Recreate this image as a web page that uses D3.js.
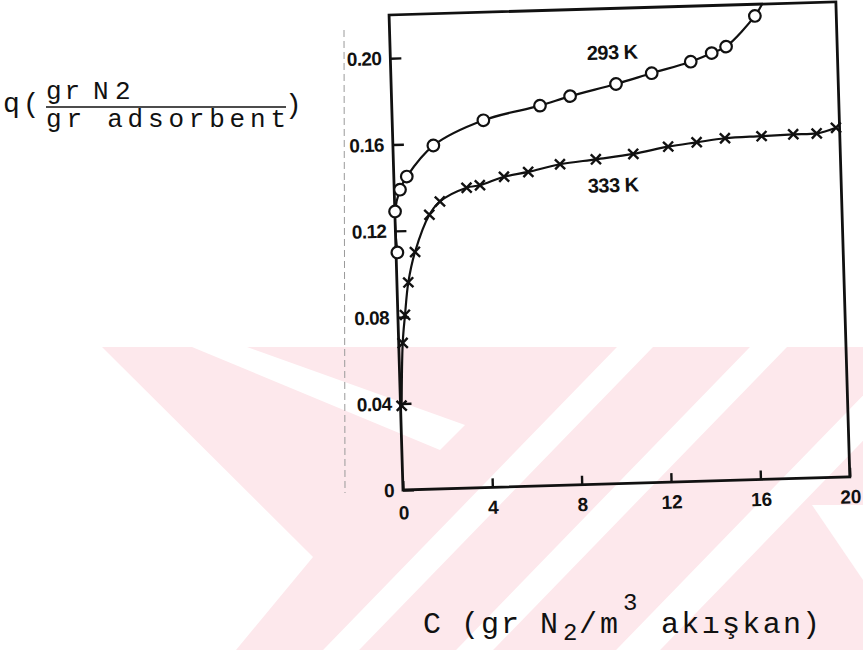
<!DOCTYPE html>
<html>
<head>
<meta charset="utf-8">
<script src="https://cdn.jsdelivr.net/npm/d3@7/dist/d3.min.js"></script>
<style>
  html, body { margin: 0; padding: 0; background: #fff; }
  svg { display: block; }
</style>
</head>
<body>
<svg id="chart" width="863" height="650"></svg>
<script>
// Adsorption isotherms of N2: loading q vs. fluid concentration C at two temperatures
const c293 = [0.06, 0.01, 0.26, 0.58, 1.81, 4.08, 6.63, 7.99, 10.06, 11.67, 13.43, 14.38, 15.03, 16.36];
const q293 = [0.110, 0.129, 0.139, 0.145, 0.159, 0.170, 0.176, 0.180, 0.185, 0.1895, 0.1943, 0.198, 0.2008, 0.2146];
const end293 = [16.7, 0.22];   // where the 293 K curve leaves the frame

const c333 = [0.05, 0.18, 0.32, 0.51, 0.85, 1.54, 2.03, 3.24, 3.84, 4.93, 6.02, 7.45, 9.06, 10.74, 12.31, 13.59, 14.86, 16.5, 17.92, 18.97, 19.84];
const q333 = [0.039, 0.068, 0.081, 0.096, 0.110, 0.127, 0.133, 0.139, 0.140, 0.1436, 0.1455, 0.1486, 0.1504, 0.1524, 0.1553, 0.1569, 0.1584, 0.1589, 0.1593, 0.1594, 0.1618];

const xTicks = [0, 4, 8, 12, 16, 20];
const yTicks = [0, 0.04, 0.08, 0.12, 0.16, 0.20];
const yTickLabels = ["0", "0.04", "0.08", "0.12", "0.16", "0.20"];
const seriesLabels = [
  { text: "293 K", c: 8.79, q: 0.1965 },
  { text: "333 K", c: 8.66, q: 0.135 }
];

const svg = d3.select("#chart");
const ink = "#111";
const pink = "#fde8ec";

// ---- faint background emblem: pink field with white diagonal cut-outs ----
const bg = svg.append("g");
bg.append("rect").attr("x", 0).attr("y", 347).attr("width", 863).attr("height", 303).attr("fill", pink);
const band = (xTop, w, slope) => {
  const yA = 347, yB = 650, d = slope * (yB - yA);
  return [[xTop, yA], [xTop + w, yA], [xTop + w + d, yB], [xTop + d, yB]];
};
const whiteShapes = [
  [[0,347],[102,347],[313,557],[236,650],[0,650]],
  [[192,347],[247,347],[465,425],[440,450]],
  band(617, 36, -0.97),
  band(750, 37, -0.97),
  band(910, 44, -0.97),
  [[812,505],[863,505],[863,580]]
];
bg.selectAll("polygon").data(whiteShapes).join("polygon")
  .attr("points", d => d.map(p => p.join(",")).join(" "))
  .attr("fill", "#fff");

// ---- plot frame (slightly tilted sheet) ----
const x0 = 403, y0 = 490, W = 447;
const x = d3.scaleLinear().domain([0, 20]).range([x0, x0 + W]);
const y = d3.scaleLinear().domain([0, 0.22]).range([y0, y0 - 0.22 * 2160]);

const g = svg.append("g").attr("transform", `rotate(-1.68, ${x0}, ${y0})`);

g.append("clipPath").attr("id", "plotClip")
  .append("rect").attr("x", x(0)).attr("y", y(0.22)).attr("width", x(20) - x(0)).attr("height", y(0) - y(0.22));

g.append("rect")
  .attr("x", x(0)).attr("y", y(0.22))
  .attr("width", x(20) - x(0)).attr("height", y(0) - y(0.22))
  .attr("fill", "none").attr("stroke", ink).attr("stroke-width", 2.8);

const tickFont = "'Liberation Sans', Arial, sans-serif";

// y axis: ticks point into the frame, labels to the left
const yAxis = d3.axisRight(y).tickValues(yTicks).tickSize(11)
  .tickFormat((d, i) => yTickLabels[i]);
const ya = g.append("g").attr("transform", `translate(${x(0)},0)`).call(yAxis);
ya.select(".domain").remove();
ya.selectAll(".tick line").attr("stroke", ink).attr("stroke-width", 2.4);
ya.selectAll(".tick text")
  .attr("x", -9).attr("text-anchor", "end")
  .attr("font-family", tickFont).attr("font-weight", "bold").attr("font-size", 19)
  .attr("letter-spacing", -0.6)
  .attr("fill", ink);

// x axis: ticks point up into the frame, labels below
const xAxis = d3.axisTop(x).tickValues(xTicks).tickSize(9).tickFormat(d3.format("d"));
const xa = g.append("g").attr("transform", `translate(0,${y(0)})`).call(xAxis);
xa.select(".domain").remove();
xa.selectAll(".tick line").attr("stroke", ink).attr("stroke-width", 2.4);
xa.selectAll(".tick text")
  .attr("y", 13).attr("dy", "0.71em")
  .attr("font-family", tickFont).attr("font-weight", "bold").attr("font-size", 19)
  .attr("fill", ink);
xa.selectAll(".tick").filter(d => d === 0).select("text").attr("y", 16);

// curves
const pts293 = c293.map((c, i) => [c, q293[i]]);
const pts333 = c333.map((c, i) => [c, q333[i]]);
const line = d3.line().x(d => x(d[0])).y(d => y(d[1])).curve(d3.curveCatmullRom.alpha(0.5));

g.append("path").datum(pts293.concat([end293]))
  .attr("d", line).attr("fill", "none").attr("stroke", ink).attr("stroke-width", 2.2)
  .attr("clip-path", "url(#plotClip)");
g.append("path").datum(pts333)
  .attr("d", line).attr("fill", "none").attr("stroke", ink).attr("stroke-width", 2.2)
  .attr("clip-path", "url(#plotClip)");

// 293 K markers: open circles
g.selectAll("circle.m293").data(pts293).join("circle")
  .attr("class", "m293")
  .attr("cx", d => x(d[0])).attr("cy", d => y(d[1])).attr("r", 5.8)
  .attr("fill", "#fff").attr("stroke", ink).attr("stroke-width", 2.2);

// 333 K markers: crosses
const s = 5;
g.selectAll("path.m333").data(pts333).join("path")
  .attr("class", "m333")
  .attr("d", `M${-s},${-s}L${s},${s}M${-s},${s}L${s},${-s}`)
  .attr("transform", d => `translate(${x(d[0])},${y(d[1])})`)
  .attr("fill", "none").attr("stroke", ink).attr("stroke-width", 2.4);

// temperature labels
g.selectAll("text.series").data(seriesLabels).join("text")
  .attr("class", "series")
  .attr("x", d => x(d.c)).attr("y", d => y(d.q))
  .attr("font-family", tickFont).attr("font-weight", "bold").attr("font-size", 20)
  .attr("letter-spacing", -0.5)
  .attr("fill", ink)
  .text(d => d.text);

// ---- axis titles (typewritten) ----
const mono = "'Liberation Mono', 'DejaVu Sans Mono', monospace";
const yt = svg.append("g").attr("font-family", mono).attr("fill", ink);
yt.append("text").attr("x", 3).attr("y", 112).attr("font-size", 28).attr("letter-spacing", 3).text("q(");
const num = yt.append("text").attr("y", 99).attr("font-size", 26);
num.append("tspan").attr("x", 46).attr("letter-spacing", 3).text("gr");
num.append("tspan").attr("x", 93).text("N");
num.append("tspan").attr("x", 115).text("2");
yt.append("line").attr("x1", 46).attr("x2", 286).attr("y1", 107).attr("y2", 107)
  .attr("stroke", ink).attr("stroke-width", 1.6);
yt.append("text").attr("x", 46).attr("y", 127).attr("font-size", 26)
  .attr("textLength", 240).attr("lengthAdjust", "spacing").text("gr adsorbent");
yt.append("text").attr("x", 285).attr("y", 113).attr("font-size", 28).text(")");

const xt = svg.append("text").attr("font-family", mono).attr("fill", ink).attr("font-size", 30);
xt.append("tspan").attr("x", 423).attr("y", 633).text("C");
xt.append("tspan").attr("x", 461).attr("y", 633).text("(");
xt.append("tspan").attr("x", 481).attr("y", 633).attr("letter-spacing", 2).text("gr");
xt.append("tspan").attr("x", 540).attr("y", 633).text("N");
xt.append("tspan").attr("x", 563).attr("y", 640).attr("font-size", 24).text("2");
xt.append("tspan").attr("x", 579).attr("y", 633).text("/");
xt.append("tspan").attr("x", 600).attr("y", 633).text("m");
xt.append("tspan").attr("x", 623).attr("y", 610).attr("font-size", 24).text("3");
xt.append("tspan").attr("x", 661).attr("y", 633).attr("textLength", 140).attr("lengthAdjust", "spacing").text("akışkan");
xt.append("tspan").attr("x", 802).attr("y", 633).text(")");

// faint fold line on the sheet left of the frame
svg.append("line").attr("x1", 344).attr("x2", 345).attr("y1", 30).attr("y2", 493)
  .attr("stroke", "#9a9a9a").attr("stroke-width", 1).attr("stroke-dasharray", "7 4");
</script>
</body>
</html>
